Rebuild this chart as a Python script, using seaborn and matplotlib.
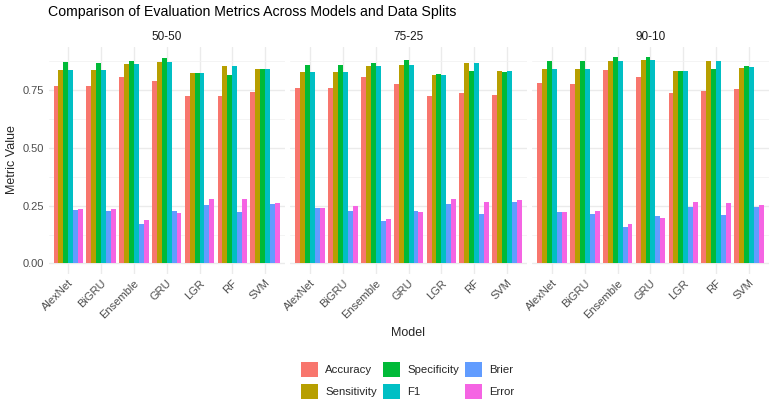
import pandas as pd
import matplotlib
matplotlib.use("Agg")
import matplotlib.pyplot as plt
from matplotlib.patches import Patch
from matplotlib.ticker import MultipleLocator
import seaborn as sns

# values
models = ["AlexNet", "BiGRU", "Ensemble", "GRU", "LGR", "RF", "SVM"]
splits = ["50-50", "75-25", "90-10"]
metrics = ["Accuracy", "Sensitivity", "Specificity", "F1", "Brier", "Error"]

# 50-50 split
acc_50 = [0.767, 0.767, 0.806, 0.789, 0.727, 0.727, 0.741]
sens_50 = [0.837, 0.837, 0.864, 0.871, 0.825, 0.857, 0.844]
spec_50 = [0.871, 0.867, 0.876, 0.890, 0.825, 0.818, 0.844]
f1_50 = [0.837, 0.837, 0.864, 0.871, 0.825, 0.857, 0.844]
brier_50 = [0.231, 0.225, 0.170, 0.225, 0.254, 0.221, 0.258]
error_50 = [0.235, 0.235, 0.186, 0.218, 0.281, 0.277, 0.262]

# 75-25 split
acc_75 = [0.760, 0.760, 0.809, 0.779, 0.723, 0.737, 0.730]
sens_75 = [0.828, 0.828, 0.855, 0.860, 0.818, 0.867, 0.832]
spec_75 = [0.860, 0.860, 0.867, 0.881, 0.822, 0.832, 0.828]
f1_75 = [0.828, 0.828, 0.855, 0.860, 0.818, 0.867, 0.832]
brier_75 = [0.238, 0.229, 0.182, 0.229, 0.258, 0.216, 0.268]
error_75 = [0.242, 0.247, 0.192, 0.224, 0.281, 0.265, 0.273]

# 90-10 split
acc_90 = [0.783, 0.779, 0.837, 0.806, 0.738, 0.746, 0.757]
sens_90 = [0.844, 0.841, 0.876, 0.883, 0.832, 0.876, 0.848]
spec_90 = [0.876, 0.876, 0.894, 0.894, 0.832, 0.841, 0.854]
f1_90 = [0.844, 0.841, 0.876, 0.883, 0.832, 0.876, 0.850]
brier_90 = [0.221, 0.216, 0.159, 0.205, 0.244, 0.209, 0.244]
error_90 = [0.221, 0.225, 0.170, 0.198, 0.265, 0.262, 0.251]

colors = ["#F8766D", "#B79F00", "#00BA38", "#00BFC4", "#619CFF", "#F564E3"]

split_values = {
    "50-50": [acc_50, sens_50, spec_50, f1_50, brier_50, error_50],
    "75-25": [acc_75, sens_75, spec_75, f1_75, brier_75, error_75],
    "90-10": [acc_90, sens_90, spec_90, f1_90, brier_90, error_90],
}

rows = []
for split in splits:
    for metric, vals in zip(metrics, split_values[split]):
        for model, v in zip(models, vals):
            rows.append({"Split": split, "Model": model, "Metric": metric, "Value": v})
df = pd.DataFrame(rows)

sns.set_style("white")
plt.rcParams["font.family"] = ["Liberation Sans", "DejaVu Sans"]

W, H = 772, 409
fig, axes = plt.subplots(1, 3, figsize=(W / 100, H / 100), dpi=100, sharey=True)
fig.subplots_adjust(left=48.6 / W, right=768.6 / W, bottom=1 - 273.7 / H,
                    top=1 - 46.7 / H, wspace=0.024)

ymax = df["Value"].max() * 1.05
ymin = -df["Value"].max() * 0.05

for ax, split in zip(axes, splits):
    sub = df[df["Split"] == split]
    sns.barplot(data=sub, x="Model", y="Value", hue="Metric", order=models,
                hue_order=metrics, palette=colors, width=0.9, gap=0,
                errorbar=None, saturation=1, linewidth=0, legend=False, ax=ax)
    ax.set_xlim(-0.6, len(models) - 0.4)
    ax.set_ylim(ymin, ymax)
    ax.yaxis.set_major_locator(MultipleLocator(0.25))
    ax.yaxis.set_minor_locator(MultipleLocator(0.125))
    ax.set_axisbelow(True)
    ax.grid(True, which="major", color="#EBEBEB", linewidth=1.0)
    ax.grid(True, which="minor", axis="y", color="#F2F2F2", linewidth=0.6)
    for s in ax.spines.values():
        s.set_visible(False)
    ax.tick_params(length=0, labelsize=8, labelcolor="#4D4D4D", pad=3)
    ax.set_xticks(range(len(models)))
    ax.set_xticklabels(models, rotation=45, ha="right", rotation_mode="anchor")
    ax.set_yticks([0, 0.25, 0.5, 0.75])
    ax.set_yticklabels(["0.00", "0.25", "0.50", "0.75"])
    ax.set_xlabel("")
    ax.set_ylabel("")
    ax.set_title(split, fontsize=8.5, color="#1A1A1A", pad=5)

fig.text(48 / W, 1 - 12 / H, "Comparison of Evaluation Metrics Across Models and Data Splits",
         fontsize=10.2, color="#000000", ha="left", va="center")
fig.text(408 / W, 1 - 333 / H, "Model", fontsize=9, ha="center", va="center")
fig.text(12 / W, 1 - 160 / H, "Metric Value", fontsize=9, rotation=90,
         ha="center", va="center")

handles = [Patch(facecolor=c, edgecolor="none", label=m) for m, c in zip(metrics, colors)]
fig.legend(handles=handles, loc="center", bbox_to_anchor=(407.5 / W, 1 - 380.5 / H),
           ncol=3, frameon=False, fontsize=8.2, handlelength=1.55, handleheight=1.55,
           handletextpad=0.6, columnspacing=0.5, labelspacing=0.7)

fig.savefig("out.png", dpi=100)
